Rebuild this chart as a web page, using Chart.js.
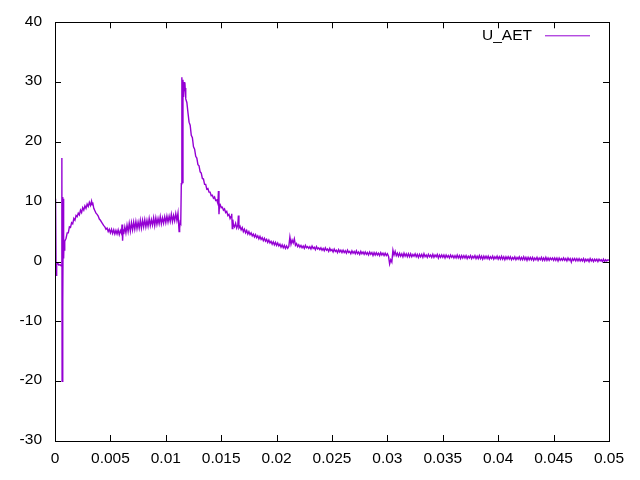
<!DOCTYPE html>
<html>
<head>
<meta charset="utf-8">
<title>U_AET</title>
<script src="https://cdn.jsdelivr.net/npm/chart.js@4.4.1/dist/chart.umd.min.js"></script>
<style>
  html, body { margin: 0; padding: 0; background: #fff; }
  #wrap { width: 640px; height: 480px; }
</style>
</head>
<body>
<div id="wrap"><canvas id="plot" width="640" height="480"></canvas></div>
<script>
// ── Data ─────────────────────────────────────────────────────────────────────

const SERIES_LABEL = 'U_AET'

const X_TICKS = [0, 0.005, 0.01, 0.015, 0.02, 0.025, 0.03, 0.035, 0.04, 0.045, 0.05]
const Y_TICKS = [-30, -20, -10, 0, 10, 20, 30, 40]

// start-up transient
const tStart = [0, 0.00005, 0.0001, 0.00015, 0.00025, 0.00035, 0.00045, 0.00055,
  0.00062, 0.00064, 0.00068, 0.00072, 0.00075, 0.00078, 0.00082, 0.00086, 0.0009]
const uStart = [1.5, 10.5, -2.3, -0.5, -0.3, -0.6, -0.5, -0.7,
  17.3, -20, 10.8, -7.2, 10.5, 0.5, 3.5, 1.8, 3.4]

// rise, hump and noisy plateau up to the big spike
const tRise = [0.001, 0.0011, 0.0012, 0.0013, 0.0014, 0.0015, 0.0016, 0.0017, 0.0018, 0.0019,
  0.002, 0.0021, 0.0022, 0.0023, 0.0024, 0.0025, 0.0026, 0.0027, 0.0028, 0.0029,
  0.003, 0.0031, 0.0032, 0.0033, 0.00335, 0.0034, 0.0035, 0.0036, 0.0037, 0.0038, 0.0039,
  0.004, 0.0041, 0.0042, 0.0043, 0.0044, 0.0045, 0.0046, 0.0047, 0.0048, 0.0049,
  0.005, 0.0051, 0.0052, 0.0053, 0.0054, 0.0055, 0.0056, 0.0057, 0.0058, 0.0059,
  0.006, 0.00605, 0.0061, 0.00615, 0.0062, 0.0063, 0.0064, 0.0065, 0.0066, 0.0067, 0.0068, 0.0069,
  0.007, 0.0071, 0.0072, 0.0073, 0.0074, 0.0075, 0.0076, 0.0077, 0.0078, 0.0079,
  0.008, 0.0081, 0.0082, 0.0083, 0.0084, 0.0085, 0.0086, 0.0087, 0.0088, 0.0089,
  0.009, 0.0091, 0.0092, 0.0093, 0.0094, 0.0095, 0.0096, 0.0097, 0.0098, 0.0099,
  0.01, 0.0101, 0.0102, 0.0103, 0.0104, 0.0105, 0.0106, 0.0107, 0.0108, 0.0109,
  0.011, 0.0111, 0.0112, 0.01125, 0.0113, 0.01135]
const uRise = [3.9, 4.8, 4.8, 5.8, 5.7, 6.5, 6.3, 7.2, 6.9, 7.7,
  7.5, 8.1, 7.8, 8.6, 8.2, 9.0, 8.6, 9.3, 8.9, 9.6,
  9.2, 9.9, 9.4, 10.1, 9.5, 9.9, 8.9, 8.5, 8.1, 7.9, 7.6,
  7.1, 6.9, 6.6, 6.3, 6.0, 5.8, 5.4, 5.6, 5.0, 5.4,
  4.8, 5.4, 4.7, 5.3, 4.6, 5.2, 4.6, 5.3, 4.5, 5.2,
  4.7, 6.2, 3.5, 5.4, 4.6, 5.8, 4.8, 6.1, 5.0, 6.4, 5.1, 6.5,
  5.3, 6.6, 5.4, 6.7, 5.5, 6.6, 5.6, 6.9, 5.6, 6.9,
  5.8, 7.0, 5.8, 6.9, 5.9, 7.2, 6.0, 7.0, 6.1, 7.3,
  6.0, 7.3, 6.2, 7.2, 6.3, 7.5, 6.3, 7.3, 6.4, 7.5,
  6.5, 7.6, 6.6, 7.6, 6.7, 7.9, 6.7, 7.7, 6.8, 8.0,
  6.9, 8.1, 5.0, 5.6, 6.6, 6.4]

// spike at ~0.0115 and its decay
const tDecay = [0.0114, 0.01145, 0.0115, 0.01155, 0.0116, 0.01165, 0.0117, 0.01175, 0.0118, 0.0119,
  0.012, 0.0121, 0.0122, 0.0123, 0.0124, 0.0125, 0.0126, 0.0127, 0.0128, 0.0129,
  0.013, 0.0131, 0.0132, 0.0133, 0.0134, 0.0135, 0.0136, 0.0137, 0.0138, 0.0139,
  0.014, 0.0141, 0.0142, 0.0143, 0.0144, 0.0145, 0.0146, 0.0147, 0.01475, 0.0148, 0.01485, 0.0149,
  0.015, 0.0151, 0.0152, 0.0153, 0.0154, 0.0155, 0.0156, 0.0157, 0.0158, 0.0159, 0.01595,
  0.016, 0.01605, 0.0161, 0.0162, 0.0163, 0.0164, 0.0165, 0.01655, 0.0166, 0.0167, 0.0168, 0.0169,
  0.017, 0.0171, 0.0172, 0.0173, 0.0174, 0.0175, 0.0176, 0.0177, 0.0178, 0.0179,
  0.018, 0.0181, 0.0182, 0.0183, 0.0184, 0.0185, 0.0186, 0.0187, 0.0188, 0.0189,
  0.019, 0.0191, 0.0192, 0.0193, 0.0194, 0.0195, 0.0196, 0.0197, 0.0198, 0.0199,
  0.02, 0.0201, 0.0202, 0.0203, 0.0204, 0.0205, 0.0206, 0.0207, 0.0208, 0.0209,
  0.021, 0.0211, 0.0212, 0.0213, 0.0214, 0.0215, 0.0216, 0.0217, 0.0218, 0.0219]
const uDecay = [13.0, 30.8, 13.2, 30.4, 27.5, 30.0, 28.5, 29.0, 27.2, 26.6,
  24.9, 23.3, 22.8, 21.1, 20.7, 19.2, 18.8, 17.6, 17.3, 16.2,
  16.0, 15.0, 14.8, 13.9, 13.8, 12.9, 12.9, 12.1, 12.2, 11.6,
  11.6, 11.0, 11.1, 10.6, 10.8, 10.2, 10.3, 9.7, 11.8, 7.9, 9.6, 9.6,
  9.0, 9.1, 8.6, 8.8, 8.2, 8.4, 7.7, 7.9, 7.2, 7.6, 8.0,
  5.5, 7.0, 6.2, 5.8, 6.4, 5.6, 6.1, 7.7, 5.6, 5.9, 5.3, 5.7,
  5.0, 5.4, 4.8, 5.2, 4.6, 5.0, 4.5, 4.8, 4.3, 4.6,
  4.1, 4.5, 4.0, 4.3, 3.8, 4.2, 3.7, 4.0, 3.5, 3.9,
  3.4, 3.7, 3.2, 3.6, 3.1, 3.4, 2.9, 3.3, 2.8, 3.2,
  2.7, 3.1, 2.6, 2.9, 2.4, 2.8, 2.3, 2.7, 2.2, 2.6,
  2.2, 2.5, 4.1, 2.9, 3.6, 3.1, 3.8, 2.7, 3.0, 2.5]

// slow tail, with the blip near 0.0302
const tTail = [
  0.022, 0.0221, 0.0222, 0.0223, 0.0224, 0.0225, 0.0226, 0.0227, 0.0228, 0.0229,
  0.023, 0.0231, 0.0232, 0.0233, 0.0234, 0.0235, 0.0236, 0.0237, 0.0238, 0.0239,
  0.024, 0.0241, 0.0242, 0.0243, 0.0244, 0.0245, 0.0246, 0.0247, 0.0248, 0.0249,
  0.025, 0.0251, 0.0252, 0.0253, 0.0254, 0.0255, 0.0256, 0.0257, 0.0258, 0.0259,
  0.026, 0.0261, 0.0262, 0.0263, 0.0264, 0.0265, 0.0266, 0.0267, 0.0268, 0.0269,
  0.027, 0.0271, 0.0272, 0.0273, 0.0274, 0.0275, 0.0276, 0.0277, 0.0278, 0.0279,
  0.028, 0.0281, 0.0282, 0.0283, 0.0284, 0.0285, 0.0286, 0.0287, 0.0288, 0.0289,
  0.029, 0.0291, 0.0292, 0.0293, 0.0294, 0.0295, 0.0296, 0.0297, 0.0298, 0.0299,
  0.03, 0.0301, 0.0302, 0.0303, 0.0304, 0.0305, 0.0306, 0.0307, 0.0308, 0.0309,
  0.031, 0.0311, 0.0312, 0.0313, 0.0314, 0.0315, 0.0316, 0.0317, 0.0318, 0.0319,
  0.032, 0.0321, 0.0322, 0.0323, 0.0324, 0.0325, 0.0326, 0.0327, 0.0328, 0.0329,
  0.033, 0.0331, 0.0332, 0.0333, 0.0334, 0.0335, 0.0336, 0.0337, 0.0338, 0.0339,
  0.034, 0.0341, 0.0342, 0.0343, 0.0344, 0.0345, 0.0346, 0.0347, 0.0348, 0.0349,
  0.035, 0.0351, 0.0352, 0.0353, 0.0354, 0.0355, 0.0356, 0.0357, 0.0358, 0.0359,
  0.036, 0.0361, 0.0362, 0.0363, 0.0364, 0.0365, 0.0366, 0.0367, 0.0368, 0.0369,
  0.037, 0.0371, 0.0372, 0.0373, 0.0374, 0.0375, 0.0376, 0.0377, 0.0378, 0.0379,
  0.038, 0.0381, 0.0382, 0.0383, 0.0384, 0.0385, 0.0386, 0.0387, 0.0388, 0.0389,
  0.039, 0.0391, 0.0392, 0.0393, 0.0394, 0.0395, 0.0396, 0.0397, 0.0398, 0.0399,
  0.04, 0.0401, 0.0402, 0.0403, 0.0404, 0.0405, 0.0406, 0.0407, 0.0408, 0.0409,
  0.041, 0.0411, 0.0412, 0.0413, 0.0414, 0.0415, 0.0416, 0.0417, 0.0418, 0.0419,
  0.042, 0.0421, 0.0422, 0.0423, 0.0424, 0.0425, 0.0426, 0.0427, 0.0428, 0.0429,
  0.043, 0.0431, 0.0432, 0.0433, 0.0434, 0.0435, 0.0436, 0.0437, 0.0438, 0.0439,
  0.044, 0.0441, 0.0442, 0.0443, 0.0444, 0.0445, 0.0446, 0.0447, 0.0448, 0.0449,
  0.045, 0.0451, 0.0452, 0.0453, 0.0454, 0.0455, 0.0456, 0.0457, 0.0458, 0.0459,
  0.046, 0.0461, 0.0462, 0.0463, 0.0464, 0.0465, 0.0466, 0.0467, 0.0468, 0.0469,
  0.047, 0.0471, 0.0472, 0.0473, 0.0474, 0.0475, 0.0476, 0.0477, 0.0478, 0.0479,
  0.048, 0.0481, 0.0482, 0.0483, 0.0484, 0.0485, 0.0486, 0.0487, 0.0488, 0.0489,
  0.049, 0.0491, 0.0492, 0.0493, 0.0494, 0.0495, 0.0496, 0.0497, 0.0498, 0.0499,
  0.05]
const uTail = [
  2.8, 2.4, 2.7, 2.3, 2.6, 2.2, 2.7, 2.3, 2.5, 2.2,
  2.5, 2.1, 2.6, 2.2, 2.4, 2.0, 2.5, 2.1, 2.3, 2.0,
  2.3, 1.9, 2.2, 1.8, 2.3, 1.9, 2.1, 1.7, 2.2, 1.8,
  2.0, 1.6, 2.1, 1.7, 1.9, 1.5, 2.0, 1.6, 1.9, 1.5,
  1.9, 1.5, 1.8, 1.4, 1.9, 1.5, 1.7, 1.3, 1.8, 1.4,
  1.7, 1.3, 1.8, 1.3, 1.6, 1.2, 1.7, 1.3, 1.6, 1.2,
  1.6, 1.2, 1.5, 1.1, 1.6, 1.2, 1.5, 1.0, 1.5, 1.1,
  1.5, 1.1, 1.4, 1.0, 1.5, 1.1, 1.4, 1.0, 1.4, 1.0,
  1.3, 0.9, -0.4, 0.3, -0.1, 1.9, 1.1, 1.7, 1.0, 1.4,
  0.9, 1.4, 0.9, 1.3, 0.8, 1.4, 0.9, 1.3, 0.8, 1.3,
  0.8, 1.3, 0.8, 1.2, 0.9, 1.3, 0.8, 1.2, 0.7, 1.2,
  0.8, 1.2, 0.7, 1.3, 0.8, 1.1, 0.7, 1.2, 0.8, 1.1,
  0.7, 1.2, 0.7, 1.1, 0.8, 1.2, 0.6, 1.1, 0.7, 1.1,
  0.7, 1.1, 0.6, 1.1, 0.7, 1.0, 0.6, 1.1, 0.7, 1.0,
  0.6, 1.0, 0.6, 1.1, 0.6, 1.0, 0.5, 1.0, 0.6, 1.0,
  0.6, 1.0, 0.5, 0.9, 0.6, 1.0, 0.5, 0.9, 0.6, 1.0,
  0.5, 0.9, 0.5, 1.0, 0.5, 0.9, 0.4, 0.9, 0.5, 0.9,
  0.5, 0.9, 0.4, 0.8, 0.5, 0.9, 0.4, 0.8, 0.5, 0.9,
  0.4, 0.8, 0.4, 0.9, 0.4, 0.8, 0.3, 0.8, 0.4, 0.8,
  0.4, 0.8, 0.3, 0.7, 0.4, 0.8, 0.3, 0.7, 0.4, 0.8,
  0.3, 0.7, 0.3, 0.8, 0.3, 0.7, 0.2, 0.7, 0.3, 0.7,
  0.3, 0.7, 0.2, 0.6, 0.3, 0.7, 0.2, 0.6, 0.3, 0.7,
  0.2, 0.6, 0.2, 0.7, 0.2, 0.6, 0.2, 0.6, 0.3, 0.6,
  0.2, 0.6, 0.2, 0.6, 0.1, 0.6, 0.2, 0.5, 0.2, 0.6,
  0.2, 0.5, 0.1, 0.6, 0.2, 0.5, -0.1, 0.5, 0.2, 0.5,
  0.1, 0.5, 0.1, 0.5, 0.1, 0.4, 0.1, 0.5, 0.0, 0.4,
  0.1, 0.4, 0.0, 0.5, 0.1, 0.4, 0.0, 0.4, 0.1, 0.4,
  0.0, 0.4, 0.1, 0.3, 0.0, 0.4, 0.0, 0.3, 0.1, 0.3,
  0.2]

const times = [...tStart, ...tRise, ...tDecay, ...tTail]
const uAet  = [...uStart, ...uRise, ...uDecay, ...uTail]

// ── Style ────────────────────────────────────────────────────────────────────

const LINE_COLOR = '#9400d3'
const FONT = { family: '"Liberation Sans", Arial, sans-serif', size: 15.5 }
const TICK_LEN = 6

// gnuplot-like frame: full border, inward ticks on all four sides, key top right
const gnuplotFrame = {
  id: 'gnuplotFrame',
  afterDatasetsDraw(chart) {
    const { ctx, chartArea: a, scales } = chart
    ctx.save()
    ctx.strokeStyle = '#000'
    ctx.lineWidth = 1
    ctx.beginPath()
    for (const v of X_TICKS) {
      const px = Math.round(scales.x.getPixelForValue(v)) + 0.5
      ctx.moveTo(px, a.bottom); ctx.lineTo(px, a.bottom - TICK_LEN)
      ctx.moveTo(px, a.top);    ctx.lineTo(px, a.top + TICK_LEN)
    }
    for (const v of Y_TICKS) {
      const py = Math.round(scales.y.getPixelForValue(v)) + 0.5
      ctx.moveTo(a.left, py);  ctx.lineTo(a.left + TICK_LEN, py)
      ctx.moveTo(a.right, py); ctx.lineTo(a.right - TICK_LEN, py)
    }
    ctx.stroke()
    ctx.strokeRect(Math.round(a.left) + 0.5, Math.round(a.top) + 0.5,
      Math.round(a.right - a.left), Math.round(a.bottom - a.top))

    // key
    const ds = chart.data.datasets[0]
    ctx.font = `${FONT.size}px ${FONT.family}`
    ctx.fillStyle = '#000'
    ctx.textAlign = 'right'
    ctx.textBaseline = 'alphabetic'
    ctx.fillText(ds.label, a.right - 77, a.top + 17.5)
    ctx.strokeStyle = ds.borderColor
    ctx.lineWidth = 1
    ctx.beginPath()
    ctx.moveTo(a.right - 64, a.top + 13.5)
    ctx.lineTo(a.right - 19, a.top + 13.5)
    ctx.stroke()
    ctx.restore()
  },
}

new Chart(document.getElementById('plot'), {
  type: 'line',
  data: {
    datasets: [{
      label: SERIES_LABEL,
      data: times.map((t, i) => ({ x: t, y: uAet[i] })),
      borderColor: LINE_COLOR,
      borderWidth: 1.4,
      pointRadius: 0,
      tension: 0,
      fill: false,
    }],
  },
  options: {
    responsive: false,
    animation: false,
    layout: { padding: { top: 19, right: 31, left: 0, bottom: 0 } },
    plugins: {
      legend: { display: false },
      tooltip: { enabled: false },
    },
    scales: {
      x: {
        type: 'linear',
        min: 0,
        max: 0.05,
        grid: { display: false, drawTicks: false },
        border: { display: false },
        afterBuildTicks: s => { s.ticks = X_TICKS.map(v => ({ value: v })) },
        afterFit: s => { s.height = 39 },
        ticks: {
          color: '#000',
          font: FONT,
          padding: 8,
          maxRotation: 0,
          autoSkip: false,
          callback: v => String(parseFloat(v.toFixed(4))),
        },
      },
      y: {
        min: -30,
        max: 40,
        grid: { display: false, drawTicks: false },
        border: { display: false },
        afterBuildTicks: s => { s.ticks = Y_TICKS.map(v => ({ value: v })) },
        afterFit: s => { s.width = 55 },
        ticks: {
          color: '#000',
          font: FONT,
          padding: 13,
          labelOffset: -1,
          callback: v => String(v),
        },
      },
    },
  },
  plugins: [gnuplotFrame],
})
</script>
</body>
</html>
